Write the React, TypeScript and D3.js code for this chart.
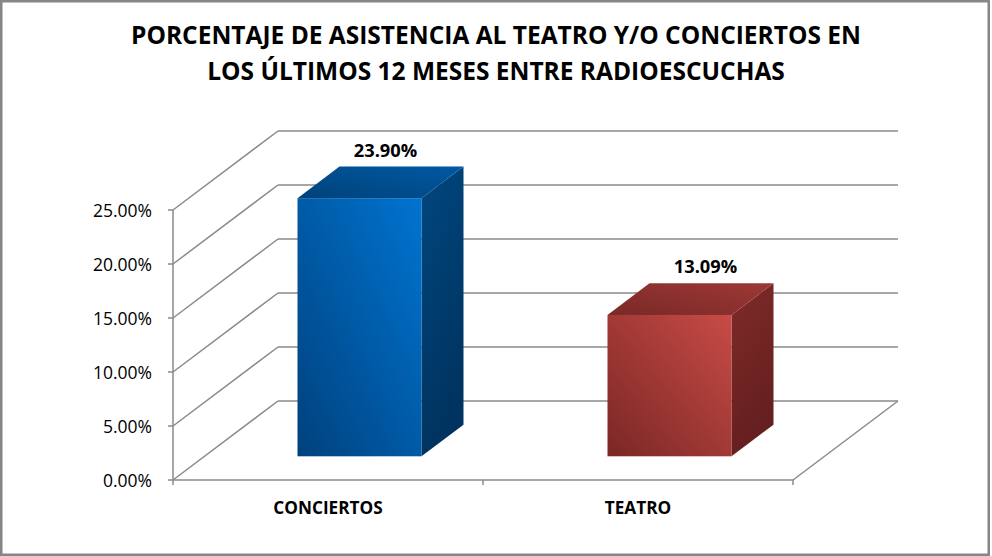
import React from "react";
import * as d3 from "d3";

const categories = ["CONCIERTOS", "TEATRO"];
const values = [0.239, 0.1309];
const valueLabels = ["23.90%", "13.09%"];
const yTicks = [0, 0.05, 0.1, 0.15, 0.2, 0.25];
const titleLines = [
  "PORCENTAJE DE ASISTENCIA AL TEATRO Y/O CONCIERTOS EN",
  "LOS ÚLTIMOS 12 MESES ENTRE RADIOESCUCHAS",
];
const palettes = [
  { front: ["#00417d", "#0074d0"], side: ["#00477f", "#00335f"], top: ["#00427a", "#0059a3"] },
  { front: ["#7a2725", "#c84b46"], side: ["#7e2b29", "#641f1e"], top: ["#7a2927", "#9d3835"] },
];

const W = 992;
const H = 556;
const FONT = "'Open Sans', 'DejaVu Sans', sans-serif";

export default function App() {
  const left = 173;
  const right = 793;
  const depthX = 105;
  const depthY = -79;
  const x = d3.scaleBand<string>().domain(categories).range([left, right]).paddingInner(0).paddingOuter(0);
  const y = d3.scaleLinear().domain([0, 0.25]).range([480, 210]);
  const depth = d3.scaleLinear().domain([0, 1]).range([0, 1]);
  const off = (t: number) => [depthX * depth(t), depthY * depth(t)];
  const band = x.bandwidth();
  const barW = band / 2.5;
  const d0 = 0.3;
  const d1 = 0.7;
  const [bx, by] = off(1);
  const grid = "#8a8a8a";

  return (
    <div style={{ position: "absolute", left: 0, top: 0 }}>
      <svg width={W} height={H} xmlns="http://www.w3.org/2000/svg" style={{ display: "block" }}>
        <defs>
          {palettes.map((p, i) => (
            <g key={i}>
              <linearGradient id={`front${i}`} x1="0" y1="1" x2="1" y2="0">
                <stop offset="0" stopColor={p.front[0]} />
                <stop offset="1" stopColor={p.front[1]} />
              </linearGradient>
              <linearGradient id={`side${i}`} x1="0" y1="0" x2="0.3" y2="1">
                <stop offset="0" stopColor={p.side[0]} />
                <stop offset="1" stopColor={p.side[1]} />
              </linearGradient>
              <linearGradient id={`top${i}`} x1="0" y1="1" x2="1" y2="0">
                <stop offset="0" stopColor={p.top[0]} />
                <stop offset="1" stopColor={p.top[1]} />
              </linearGradient>
            </g>
          ))}
        </defs>
        <rect x={0} y={0} width={W} height={H} fill="#ffffff" />
        <rect x={1.25} y={1.25} width={987.5} height={553.5} fill="none" stroke="#868686" strokeWidth={2.5} />

        {titleLines.map((t, i) => (
          <text
            key={i}
            x={496}
            y={43.5 + i * 36}
            textAnchor="middle"
            fontFamily={FONT}
            fontWeight={700}
            fontSize={24.5}
            fill="#000"
          >
            {t}
          </text>
        ))}

        {/* back wall gridlines */}
        {yTicks.map((t) => (
          <line key={`b${t}`} x1={left + bx} x2={right + bx} y1={y(t) + by} y2={y(t) + by} stroke={grid} strokeWidth={1.5} />
        ))}
        {/* side wall diagonals */}
        {yTicks.map((t) => (
          <line key={`s${t}`} x1={left} x2={left + bx} y1={y(t)} y2={y(t) + by} stroke={grid} strokeWidth={1.5} />
        ))}
        {/* floor */}
        <line x1={left} x2={right} y1={y(0)} y2={y(0)} stroke={grid} strokeWidth={1.5} />
        <line x1={right} x2={right + bx} y1={y(0)} y2={y(0) + by} stroke={grid} strokeWidth={1.5} />
        {/* front vertical axis */}
        <line x1={left} x2={left} y1={y(0.25)} y2={y(0)} stroke={grid} strokeWidth={1.5} />
        {yTicks.map((t) => (
          <line key={`t${t}`} x1={left - 5} x2={left} y1={y(t)} y2={y(t)} stroke={grid} strokeWidth={1.5} />
        ))}
        {[left, left + band, right].map((v) => (
          <line key={`c${v}`} x1={v} x2={v} y1={y(0)} y2={y(0) + 5} stroke={grid} strokeWidth={1.5} />
        ))}
        {yTicks.map((t) => (
          <text
            key={`l${t}`}
            x={152}
            y={y(t) + 6.5}
            textAnchor="end"
            fontFamily={FONT}
            fontSize={17.5}
            fill="#000"
          >
            {d3.format(".2%")(t)}
          </text>
        ))}
        {categories.map((c) => (
          <text
            key={c}
            x={(x(c) as number) + band / 2}
            y={514}
            textAnchor="middle"
            fontFamily={FONT}
            fontWeight={700}
            fontSize={17.2}
            fill="#000"
          >
            {c}
          </text>
        ))}

        {/* bars */}
        {categories.map((c, i) => {
          const [fx, fy] = off(d0);
          const [kx, ky] = off(d1);
          const cx = (x(c) as number) + band / 2;
          const x0 = cx - barW / 2 + fx;
          const x1 = cx + barW / 2 + fx;
          const yb = y(0) + fy;
          const yt = y(values[i]) + fy;
          const ddx = kx - fx;
          const ddy = ky - fy;
          const side = `M${x1},${yt} L${x1 + ddx},${yt + ddy} L${x1 + ddx},${yb + ddy} L${x1},${yb} Z`;
          const top = `M${x0},${yt} L${x0 + ddx},${yt + ddy} L${x1 + ddx},${yt + ddy} L${x1},${yt} Z`;
          const [mx] = off(0.5);
          return (
            <g key={c}>
              <path d={side} fill={`url(#side${i})`} />
              <path d={top} fill={`url(#top${i})`} />
              <rect x={x0} y={yt} width={x1 - x0} height={yb - yt} fill={`url(#front${i})`} />
              <text
                x={cx + mx + 5 + i * 10}
                y={y(values[i]) + ky - 10}
                textAnchor="middle"
                fontFamily={FONT}
                fontWeight={700}
                fontSize={18.3}
                fill="#000"
              >
                {valueLabels[i]}
              </text>
            </g>
          );
        })}
      </svg>
    </div>
  );
}
